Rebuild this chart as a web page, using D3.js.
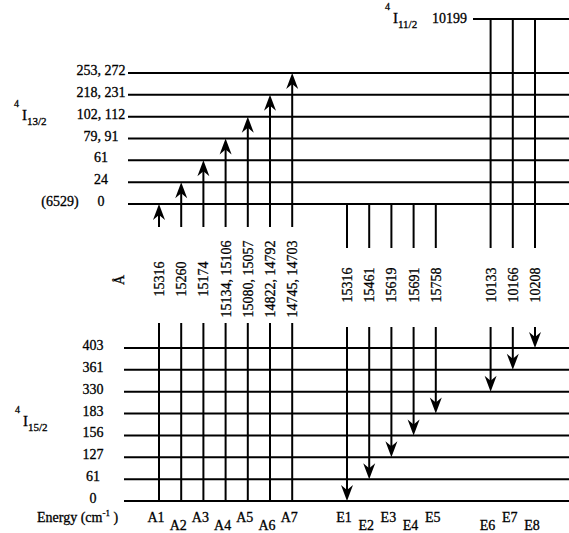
<!DOCTYPE html>
<html>
<head>
<meta charset="utf-8">
<script src="https://cdn.jsdelivr.net/npm/d3@7"></script>
<style>
  body { margin: 0; background: #fff; }
  svg { display: block; }
  text { font-family: "Liberation Serif", "Times New Roman", serif; fill: #000; stroke: #000; stroke-width: 0.3px; }
</style>
</head>
<body>
<svg id="chart" width="569" height="533"></svg>
<script>
// levels (cm-1), bottom to top
var upperLevels = ["0", "24", "61", "79, 91", "102, 112", "218, 231", "253, 272"];
var lowerLevels = ["0", "61", "127", "156", "183", "330", "361", "403"];
var topLevel = "10199";

// absorption lines: from lower level 0 up to upper level
var absNames = ["A1", "A2", "A3", "A4", "A5", "A6", "A7"];
var absWave = ["15316", "15260", "15174", "15134, 15106", "15080, 15057", "14822, 14792", "14745, 14703"];
var absTo = ["0", "24", "61", "79, 91", "102, 112", "218, 231", "253, 272"];

// emission lines: from 4I13/2 (0) or 4I11/2 down to lower level
var emiNames = ["E1", "E2", "E3", "E4", "E5", "E6", "E7", "E8"];
var emiWave = ["15316", "15461", "15619", "15691", "15758", "10133", "10166", "10208"];
var emiFrom = ["13/2", "13/2", "13/2", "13/2", "13/2", "11/2", "11/2", "11/2"];
var emiTo = ["0", "61", "127", "156", "183", "330", "361", "403"];

var svg = d3.select("#chart");

var yUp = d3.scalePoint().domain(upperLevels).range([204, 73]);
var yLow = d3.scalePoint().domain(lowerLevels).range([501, 348]);
var yTop = 19;

// columns: A group, E1-E5 group, E6-E8 group
var step = 22.2, gap = 32.6, x0 = 159;
function colX(i, grp) { return x0 + i * step + grp * gap; }
var absX = absNames.map(function(d, i) { return colX(i, 0); });
var emiX = emiNames.map(function(d, i) { return colX(i + 7, i < 5 ? 1 : 2); });

var upCut = 227, lowCut = 323, emiUpCut = 248, emiLowCut = 327;

function arrowHead(g, x, y, dir) {
  // dir -1 = pointing up, 1 = pointing down
  var L = 16, W = 6, N = 11;
  g.append("path")
    .attr("d", "M" + x + "," + y +
      "L" + (x - W) + "," + (y - dir * L) +
      "L" + x + "," + (y - dir * N) +
      "L" + (x + W) + "," + (y - dir * L) + "Z")
    .attr("fill", "#000");
}

var lines = svg.append("g").attr("stroke", "#000").attr("stroke-width", 2);

// level lines
lines.selectAll(".up").data(upperLevels).enter().append("line")
  .attr("x1", 128).attr("x2", 569)
  .attr("y1", function(d) { return yUp(d); }).attr("y2", function(d) { return yUp(d); });
lines.selectAll(".low").data(lowerLevels).enter().append("line")
  .attr("x1", 124).attr("x2", 569)
  .attr("y1", function(d) { return yLow(d); }).attr("y2", function(d) { return yLow(d); });
lines.append("line").attr("x1", 473).attr("x2", 569).attr("y1", yTop).attr("y2", yTop);

// absorption
absNames.forEach(function(n, i) {
  var x = absX[i];
  var tip = yUp(absTo[i]);
  lines.append("line").attr("x1", x).attr("x2", x).attr("y1", upCut).attr("y2", tip + 10);
  arrowHead(svg, x, tip, -1);
  lines.append("line").attr("x1", x).attr("x2", x).attr("y1", lowCut).attr("y2", yLow("0"));
});

// emission
emiNames.forEach(function(n, i) {
  var x = emiX[i];
  var from = emiFrom[i] == "13/2" ? yUp("0") : yTop;
  var tip = yLow(emiTo[i]);
  lines.append("line").attr("x1", x).attr("x2", x).attr("y1", from).attr("y2", emiUpCut);
  lines.append("line").attr("x1", x).attr("x2", x).attr("y1", emiLowCut).attr("y2", tip - 10);
  arrowHead(svg, x, tip, 1);
});

var txt = svg.append("g").attr("font-size", 14);

// level labels
txt.selectAll(".ul").data(upperLevels).enter().append("text")
  .attr("x", 101).attr("y", function(d) { return yUp(d) + 2; })
  .attr("text-anchor", "middle").text(function(d) { return d; });
txt.append("text").attr("x", 60).attr("y", yUp("0") + 2)
  .attr("text-anchor", "middle").text("(6529)");
txt.selectAll(".ll").data(lowerLevels).enter().append("text")
  .attr("x", 93).attr("y", function(d) { return yLow(d) + 2; })
  .attr("text-anchor", "middle").text(function(d) { return d; });
txt.append("text").attr("x", 467).attr("y", yTop + 4)
  .attr("text-anchor", "end").text(topLevel);

// term symbols
function term(x, y, sub) {
  txt.append("text").attr("x", x).attr("y", y - 13).attr("font-size", 10).text("4");
  txt.append("text").attr("x", x + 8).attr("y", y).attr("font-size", 15).text("I");
  txt.append("text").attr("x", x + 13).attr("y", y + 5).attr("font-size", 11).text(sub);
}
term(14, 120, "13/2");
term(15, 426, "15/2");
term(385, 23, "11/2");

// wavelengths (rotated)
function rotLabel(x, y, s) {
  txt.append("text")
    .attr("transform", "translate(" + (x + 5) + "," + y + ") rotate(-90)")
    .attr("text-anchor", "middle").text(s);
}
rotLabel(119, 280, "\u00c5");
absWave.forEach(function(s, i) { rotLabel(absX[i], 279, s); });
emiWave.forEach(function(s, i) { rotLabel(emiX[i], 285, s); });

// transition names
absNames.forEach(function(s, i) {
  txt.append("text").attr("x", absX[i] - 3).attr("y", i % 2 ? 530 : 522)
    .attr("text-anchor", "middle").text(s);
});
emiNames.forEach(function(s, i) {
  txt.append("text").attr("x", emiX[i] - 3).attr("y", i % 2 ? 530 : 522)
    .attr("text-anchor", "middle").text(s);
});

var en = txt.append("text").attr("x", 37).attr("y", 522);
en.append("tspan").text("Energy (cm");
en.append("tspan").attr("font-size", 9).attr("dy", -6).text("-1");
en.append("tspan").attr("dy", 6).text(" )");
</script>
</body>
</html>
